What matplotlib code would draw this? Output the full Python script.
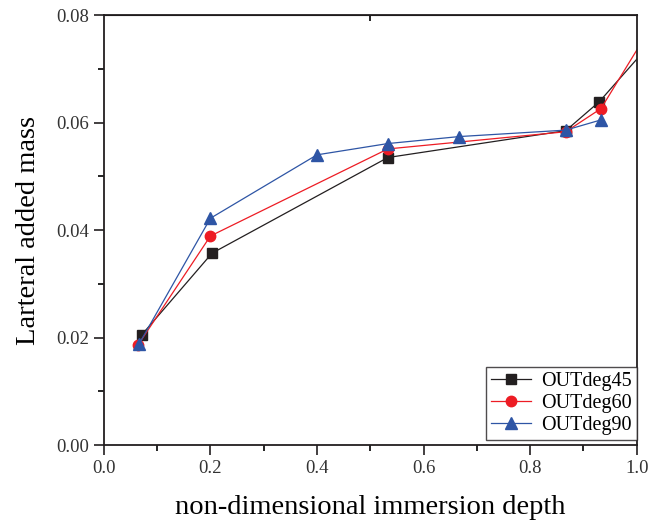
import matplotlib
matplotlib.use("Agg")
import matplotlib.pyplot as plt
from matplotlib.ticker import MultipleLocator, FormatStrFormatter

# data
x45 = [0.071, 0.203, 0.533, 0.867, 0.930, 1.067]
y45 = [0.0205, 0.0357, 0.0535, 0.0585, 0.0639, 0.0793]
x60 = [0.064, 0.200, 0.533, 0.867, 0.933, 1.067]
y60 = [0.0186, 0.0389, 0.0551, 0.0583, 0.0626, 0.0843]
x90 = [0.066, 0.200, 0.400, 0.533, 0.667, 0.867, 0.933]
y90 = [0.0188, 0.0422, 0.0540, 0.0561, 0.0574, 0.0586, 0.0605]

serif = ["Liberation Serif", "DejaVu Serif"]
plt.rcParams["font.family"] = serif

fig = plt.figure(figsize=(6.49, 5.20), dpi=100)
ax = fig.add_axes([0.160, 0.144, 0.821, 0.827])

ax.plot(x45, y45, color="#231f20", lw=0.9, marker="s", ms=7, label="OUTdeg45")
ax.plot(x60, y60, color="#ed1c24", lw=0.9, marker="o", ms=7.5, label="OUTdeg60")
ax.plot(x90, y90, color="#2e55a5", lw=0.9, marker="^", ms=8.5, label="OUTdeg90")

ax.set_xlim(0, 1.0)
ax.set_ylim(0, 0.08)
ax.xaxis.set_major_locator(MultipleLocator(0.2))
ax.xaxis.set_minor_locator(MultipleLocator(0.1))
ax.yaxis.set_major_locator(MultipleLocator(0.02))
ax.yaxis.set_minor_locator(MultipleLocator(0.01))
ax.xaxis.set_major_formatter(FormatStrFormatter("%.1f"))
ax.yaxis.set_major_formatter(FormatStrFormatter("%.2f"))
ax.tick_params(which="major", direction="out", length=7, width=1.2,
               labelsize=13.5, colors="#231f20", labelcolor="#333333")
ax.tick_params(which="minor", direction="out", length=4, width=1.2)
for s in ax.spines.values():
    s.set_linewidth(1.3)
    s.set_color("#231f20")

top = ax.secondary_xaxis("top")
top.set_xticks([0.5])
top.tick_params(direction="in", length=4, width=1.2, labeltop=False)

ax.set_xlabel("non-dimensional immersion depth", fontsize=20.5, labelpad=13)
ax.set_ylabel("Larteral added mass", fontsize=20.5, labelpad=11)

leg = ax.legend(loc="lower right", bbox_to_anchor=(1.0, 0.012), fontsize=14.5,
                frameon=True, fancybox=False, borderaxespad=0, handlelength=2.0,
                borderpad=0.25, labelspacing=0.15, handletextpad=0.5)
leg.get_frame().set_edgecolor("#231f20")
leg.get_frame().set_linewidth(1.0)

fig.savefig("out.png", dpi=100)
